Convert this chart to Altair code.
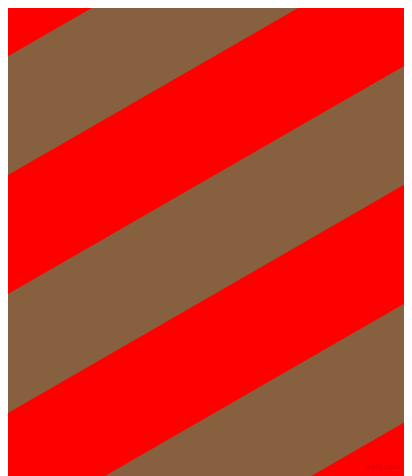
import altair as alt
import pandas as pd

# Stripe geometry (reference pixel coordinates)
band_names = ["band 1", "band 2", "band 3"]
band_top_at_left = [60.8, 298.6, 536.4]   # where each brown band's upper edge meets the left edge
band_thickness = [118.9, 118.9, 118.9]     # vertical thickness of each brown band
slope = 0.576                              # rise per pixel (stripes go up to the right)
edge_x = [0, 412]

stripe_color = "#86603f"
background_color = "#ff0000"
watermark = "pixlis.com"

rows = []
for name, c, h in zip(band_names, band_top_at_left, band_thickness):
    for x in edge_x:
        top = c - slope * x
        rows.append({"band": name, "x": x, "y": top, "y2": top + h})
df = pd.DataFrame(rows)

# page has an 8px margin: the plot shows reference pixels 8..404 x 8..476
W, H = 396, 468
xs = alt.Scale(domain=[8, 8 + W], nice=False, zero=False)
ys = alt.Scale(domain=[8, 8 + H], nice=False, zero=False, reverse=True)

bands = alt.Chart(df).mark_area(color=stripe_color, clip=True, opacity=1).encode(
    x=alt.X("x:Q", scale=xs, axis=None),
    y=alt.Y("y:Q", scale=ys, axis=None),
    y2="y2:Q",
    detail="band:N",
)

wm = alt.Chart(pd.DataFrame({"t": [watermark]})).mark_text(
    font="DejaVu Sans", fontSize=7, color="#d80000", align="center", baseline="alphabetic"
).encode(
    text="t:N",
    x=alt.value(382 - 8),
    y=alt.value(469 - 8),
)

chart = alt.layer(bands, wm).properties(
    width=W, height=H, background=background_color, padding=0,
    autosize=alt.AutoSizeParams(type="none"),
).configure_view(stroke=None)

chart.save("out.html", embed_options={"renderer": "svg", "actions": False})
